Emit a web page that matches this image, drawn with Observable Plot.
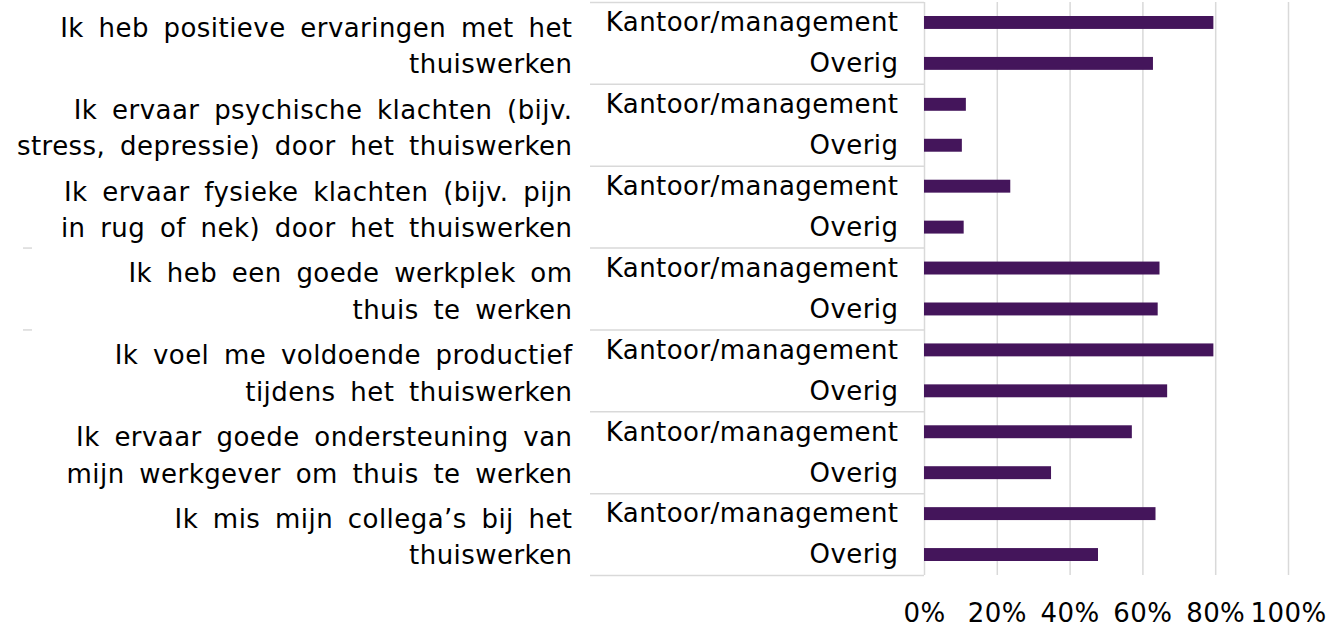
<!DOCTYPE html>
<html>
<head>
<meta charset="utf-8">
<script src="https://cdn.jsdelivr.net/npm/d3@7"></script>
<script src="https://cdn.jsdelivr.net/npm/@observablehq/plot@0.6"></script>
<style>
  html, body { margin: 0; padding: 0; background: #fff; }
  #chart svg { display: block; }
  #chart svg text { letter-spacing: 0.45px; word-spacing: 6px; }
</style>
</head>
<body>
<div id="chart"></div>
<script>
// ---- data ----
const statements = [
  "Ik heb positieve ervaringen met het\nthuiswerken",
  "Ik ervaar psychische klachten (bijv.\nstress, depressie) door het thuiswerken",
  "Ik ervaar fysieke klachten (bijv. pijn\nin rug of nek) door het thuiswerken",
  "Ik heb een goede werkplek om\nthuis te werken",
  "Ik voel me voldoende productief\ntijdens het thuiswerken",
  "Ik ervaar goede ondersteuning van\nmijn werkgever om thuis te werken",
  "Ik mis mijn collega’s bij het\nthuiswerken"
];
const groups = ["Kantoor/management", "Overig"];
const kantoorValues = [0.795, 0.115, 0.237, 0.647, 0.795, 0.571, 0.636];
const overigValues  = [0.629, 0.104, 0.109, 0.642, 0.668, 0.349, 0.478];
const tickValues = [0, 0.2, 0.4, 0.6, 0.8, 1.0];

// ---- derived table ----
const rows = [];
statements.forEach((s, si) => {
  rows.push({statement: s, group: groups[0], value: kantoorValues[si], i: si * 2});
  rows.push({statement: s, group: groups[1], value: overigValues[si], i: si * 2 + 1});
});
const statementRows = statements.map((s, si) => ({statement: s, center: si * 2 + 1}));
const boundaries = d3.range(0, statements.length * 2 + 1, 2);

// ---- layout ----
const W = 1334, H = 627;
const mL = 924, mR = 46, mT = 2, mB = 52;
const plotW = W - mL - mR;
const sepLeft = -(mL - 590) / plotW;      // left end of category separators, in x units
const stubL = -(mL - 23) / plotW, stubR = -(mL - 32) / plotW;
const purple = "#44155b";
const grid = "#d9d9d9";
const font = "DejaVu Sans, Verdana, sans-serif";

const chart = Plot.plot({
  width: W,
  height: H,
  marginLeft: mL,
  marginRight: mR,
  marginTop: mT,
  marginBottom: mB,
  style: {fontFamily: font, fontSize: "26px", color: "#000", background: "#fff", overflow: "visible"},
  x: {domain: [0, 1], ticks: tickValues, tickFormat: d3.format(".0%"), tickSize: 0, tickPadding: 28, label: null, line: false},
  y: {domain: [0, statements.length * 2], range: [mT, H - mB], axis: null},
  marks: [
    // gridlines
    Plot.ruleX(tickValues.slice(1), {y1: 0, y2: statements.length * 2, stroke: grid, strokeWidth: 1.5}),
    // category separators
    Plot.ruleY(boundaries, {x1: sepLeft, x2: 0, stroke: grid, strokeWidth: 1.5}),
    Plot.ruleY([6, 8], {x1: stubL, x2: stubR, stroke: grid, strokeWidth: 1.5}),
    // axis line
    Plot.ruleX([0], {y1: 0, y2: statements.length * 2, stroke: grid, strokeWidth: 1.5}),
    // bars
    Plot.rect(rows, {x1: 0, x2: "value", y1: "i", y2: d => d.i + 1, insetTop: 14, insetBottom: 14, fill: purple}),
    // group labels
    Plot.text(rows, {x: 0, y: d => d.i + 0.5, text: "group", dx: -26, textAnchor: "end", fill: "#000", fontSize: 26}),
    // statement labels
    Plot.text(statementRows, {x: 0, y: "center", text: "statement", dx: -352, textAnchor: "end", lineHeight: 1.4, fill: "#000", fontSize: 26})
  ]
});
document.getElementById("chart").appendChild(chart);
</script>
</body>
</html>
